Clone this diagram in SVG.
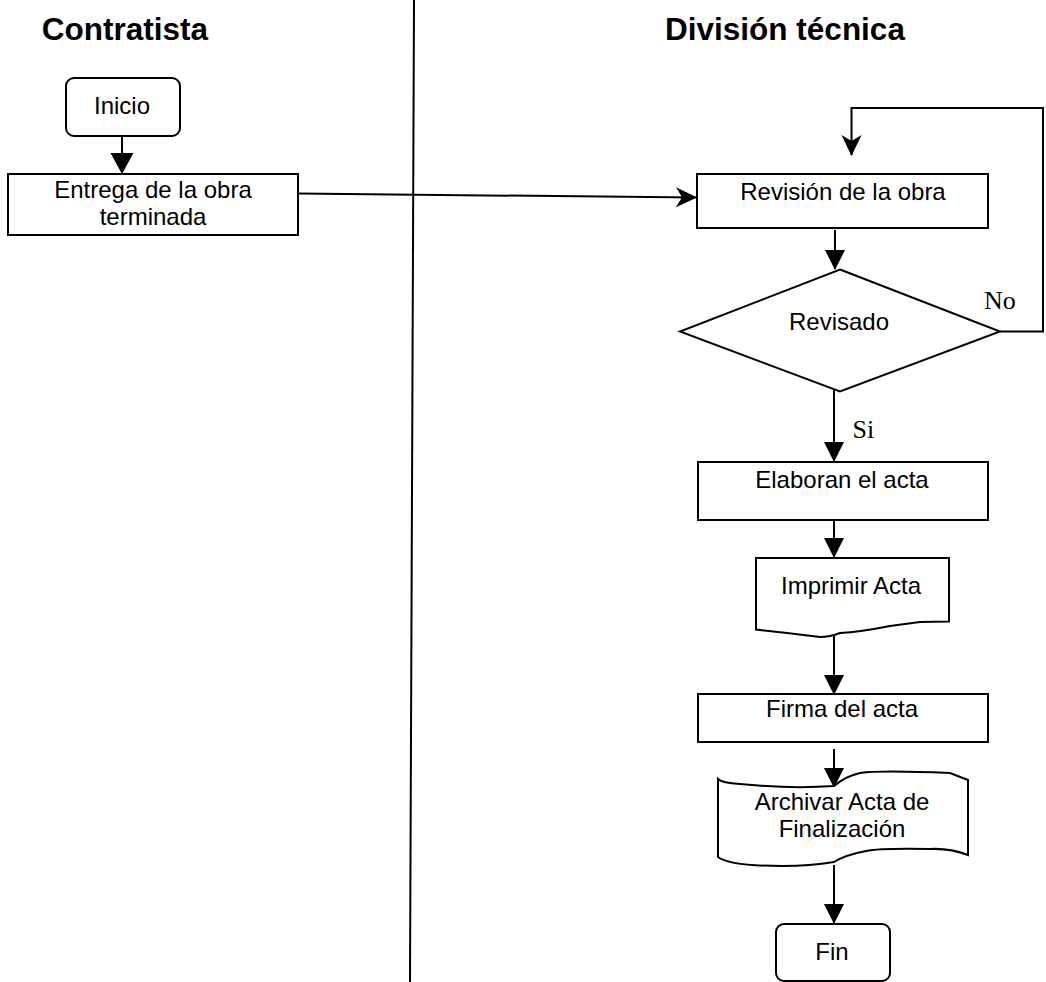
<svg xmlns="http://www.w3.org/2000/svg" width="1046" height="982" viewBox="0 0 1046 982">
  <style>
    .shape { fill: #ffffff; stroke: #000000; stroke-width: 2; stroke-linejoin: miter; }
    .line { fill: none; stroke: #000000; stroke-width: 2; }
    .label { font-family: "Liberation Sans", Arial, sans-serif; font-size: 24px; fill: #000000; text-anchor: middle; }
    .title { font-family: "Liberation Sans", Arial, sans-serif; font-size: 31.5px; font-weight: bold; fill: #000000; text-anchor: middle; }
    .branch { font-family: "Liberation Serif", "Times New Roman", serif; font-size: 26px; fill: #000000; }
  </style>
  <defs>
    <marker id="tri" markerUnits="userSpaceOnUse" markerWidth="20" markerHeight="22" refX="19" refY="10" orient="auto" overflow="visible">
      <path d="M0,0 L20,10 L0,20 Z" fill="#000000"/>
    </marker>
    <marker id="triWide" markerUnits="userSpaceOnUse" markerWidth="21" markerHeight="24" refX="20" refY="11.5" orient="auto" overflow="visible">
      <path d="M0,0 L21,11.5 L0,23 Z" fill="#000000"/>
    </marker>
    <marker id="stealth" markerUnits="userSpaceOnUse" markerWidth="21" markerHeight="22" refX="20" refY="10" orient="auto" overflow="visible">
      <path d="M0,0 L21,10 L0,20 L6,10 Z" fill="#000000"/>
    </marker>
  </defs>

  <rect width="1046" height="982" fill="#ffffff"/>

  <!-- lane headings and divider -->
  <g id="lanes">
    <text class="title" x="125" y="40">Contratista</text>
    <text class="title" x="785" y="40">División técnica</text>
    <path class="line" d="M414,0 L410,982"/>
  </g>

  <!-- connectors -->
  <g id="connectors">
    <path class="line" d="M122,137 L122,173" marker-end="url(#triWide)"/>
    <path class="line" d="M298,193.5 L696,197.5" marker-end="url(#stealth)"/>
    <path class="line" d="M835,230 L835,269" marker-end="url(#tri)"/>
    <path class="line" d="M1000,331.5 L1043,331.5 L1043,108 L851.5,108 L851.5,155" marker-end="url(#stealth)"/>
    <path class="line" d="M834,385 L834,461" marker-end="url(#tri)"/>
    <path class="line" d="M834,520 L834,557" marker-end="url(#tri)"/>
    <path class="line" d="M834,635 L834,694" marker-end="url(#tri)"/>
    <path class="line" d="M834,749 L834,787" marker-end="url(#tri)"/>
    <path class="line" d="M834,865 L834,923" marker-end="url(#tri)"/>
    <text class="branch" x="984" y="309" font-size="27">No</text>
    <text class="branch" x="852.5" y="438">Si</text>
  </g>

  <!-- nodes -->
  <g id="inicio">
    <rect class="shape" x="66" y="78" width="114" height="58" rx="8" ry="8"/>
    <text class="label" x="122" y="114">Inicio</text>
  </g>

  <g id="entrega">
    <rect class="shape" x="8" y="174" width="290" height="61"/>
    <text class="label" x="153" y="198">Entrega de la obra</text>
    <text class="label" x="153" y="225">terminada</text>
  </g>

  <g id="revision">
    <rect class="shape" x="697" y="174" width="291" height="54"/>
    <text class="label" x="843" y="200">Revisión de la obra</text>
  </g>

  <g id="revisado">
    <polygon class="shape" points="840,269.5 1000,331.5 840,391.5 680,331.5"/>
    <text class="label" x="839" y="330">Revisado</text>
  </g>

  <g id="elaboran">
    <rect class="shape" x="698" y="462" width="290" height="58"/>
    <text class="label" x="842" y="488">Elaboran el acta</text>
  </g>

  <g id="imprimir">
    <path class="shape" d="M756,558 L949,558 L949,621.5 L920,622 L890,626 Q860,632 840,633 Q830,637 820,637 L787,633 L756,629.5 Z"/>
    <text class="label" x="851" y="594">Imprimir Acta</text>
  </g>

  <g id="firma">
    <rect class="shape" x="698" y="694" width="290" height="48"/>
    <text class="label" x="842" y="717">Firma del acta</text>
  </g>

  <g id="archivar">
    <path class="shape" d="M718,779 Q722,783 740,784 Q790,789 834,786 Q846,776 860,773 Q880,770 950,773 L968,780 L968,855 Q950,848 930,849 Q880,848 866,851 Q845,855 834,862 Q810,866 783,866 Q730,866 718,857 Z"/>
    <text class="label" x="842" y="810">Archivar Acta de</text>
    <text class="label" x="842" y="837">Finalización</text>
  </g>

  <g id="fin">
    <rect class="shape" x="776" y="924" width="114" height="57" rx="8" ry="8"/>
    <text class="label" x="832" y="960">Fin</text>
  </g>
</svg>
